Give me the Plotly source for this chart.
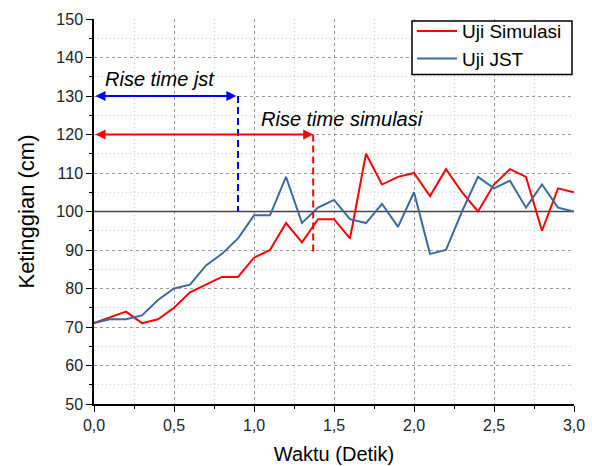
import plotly.graph_objects as go

waktu = [round(i * 0.1, 1) for i in range(31)]
uji_simulasi = [71, 72.5, 74, 71, 72, 75, 79, 81, 83, 83, 88, 90, 97, 92, 98, 98, 93, 115,
                107, 109, 110, 104, 111, 105, 100, 107, 111, 109, 95, 106, 105]
uji_jst = [71, 72, 72, 73, 77, 80, 81, 86, 89, 93, 99, 99, 109, 97, 101, 103, 98, 97,
           102, 96, 105, 89, 90, 100, 109, 106, 108, 101, 107, 101, 100]

setpoint = 100
rise_jst = 0.9
rise_sim = 1.37
level_jst = 130
level_sim = 120
bottom_jst = 100
bottom_sim = 89

RED = "#FF0000"
BLUE = "#3A6AA0"
FONT = "Liberation Sans, Arial, sans-serif"

fig = go.Figure()
# setpoint line (drawn first, beneath the data)
fig.add_trace(go.Scatter(x=[waktu[0], waktu[-1]], y=[setpoint, setpoint], mode="lines",
                         line=dict(color="#444444", width=1.5), showlegend=False,
                         hoverinfo="skip"))
fig.add_trace(go.Scatter(x=waktu, y=uji_simulasi, mode="lines", name="Uji Simulasi",
                         line=dict(color=RED, width=2)))
fig.add_trace(go.Scatter(x=waktu, y=uji_jst, mode="lines", name="Uji JST",
                         line=dict(color=BLUE, width=2)))

# dashed verticals
fig.add_shape(type="line", x0=rise_jst, x1=rise_jst, y0=level_jst, y1=bottom_jst,
              line=dict(color="#0000FF", width=2, dash="7px,4px"))
fig.add_shape(type="line", x0=rise_sim, x1=rise_sim, y0=level_sim, y1=bottom_sim,
              line=dict(color=RED, width=2, dash="7px,4px"))

# legend frame
fig.add_shape(type="rect", xref="paper", yref="paper", x0=0.6625, x1=0.9958,
              y0=0.8557, y1=0.9948, line=dict(color="#000000", width=1.5),
              fillcolor="white", layer="above")

# double arrows
for xe, yl, col in [(rise_jst - 0.01, level_jst, "#0000FF"), (rise_sim, level_sim, RED)]:
    fig.add_annotation(x=xe, y=yl, ax=0.0, ay=yl, xref="x", yref="y", axref="x", ayref="y",
                       text="", showarrow=True, arrowside="end+start", arrowhead=2,
                       startarrowhead=2, arrowsize=1, startarrowsize=1, arrowwidth=2,
                       arrowcolor=col, standoff=0, startstandoff=0)

fig.add_annotation(x=0.41, y=134.5, text="<i>Rise time jst</i>", showarrow=False,
                   font=dict(family=FONT, size=20, color="#000000"))
fig.add_annotation(x=1.55, y=124.0, text="<i>Rise time simulasi</i>", showarrow=False,
                   font=dict(family=FONT, size=20, color="#000000"))

axis_common = dict(
    showline=True, linecolor="#000000", linewidth=1.5,
    ticks="outside", ticklen=6, tickwidth=1, tickcolor="#000000",
    showgrid=True, gridcolor="#9a9a9a", griddash="3px,3px", gridwidth=1,
    zeroline=False, mirror=False, automargin=False,
    tickfont=dict(family=FONT, size=16, color="#222222"),
)

fig.update_layout(
    width=592, height=466,
    margin=dict(l=94, r=18, t=16, b=62),
    paper_bgcolor="white", plot_bgcolor="white",
    separators=", ",
    font=dict(family=FONT, color="#000000"),
    xaxis=dict(range=[0, 3], dtick=0.5, tickformat=".1f",
               title=dict(text="Waktu (Detik)", font=dict(family=FONT, size=20), standoff=14),
               minor=dict(dtick=0.25, ticks="outside", ticklen=3, tickcolor="#000000",
                          showgrid=True, gridcolor="#c8c8c8", griddash="1px,3px"),
               **axis_common),
    yaxis=dict(range=[50, 150], dtick=10,
               title=dict(text="Ketinggian (cm)", font=dict(family=FONT, size=22), standoff=16),
               minor=dict(dtick=5, ticks="outside", ticklen=3, tickcolor="#000000",
                          showgrid=True, gridcolor="#c8c8c8", griddash="1px,3px"),
               **axis_common),
    legend=dict(x=0.6625, y=1.018, xanchor="left", yanchor="top",
                borderwidth=0, bgcolor="rgba(0,0,0,0)",
                font=dict(family=FONT, size=19, color="#000000"),
                tracegroupgap=0, itemwidth=40),
    showlegend=True,
)

fig.write_html("out.html")
